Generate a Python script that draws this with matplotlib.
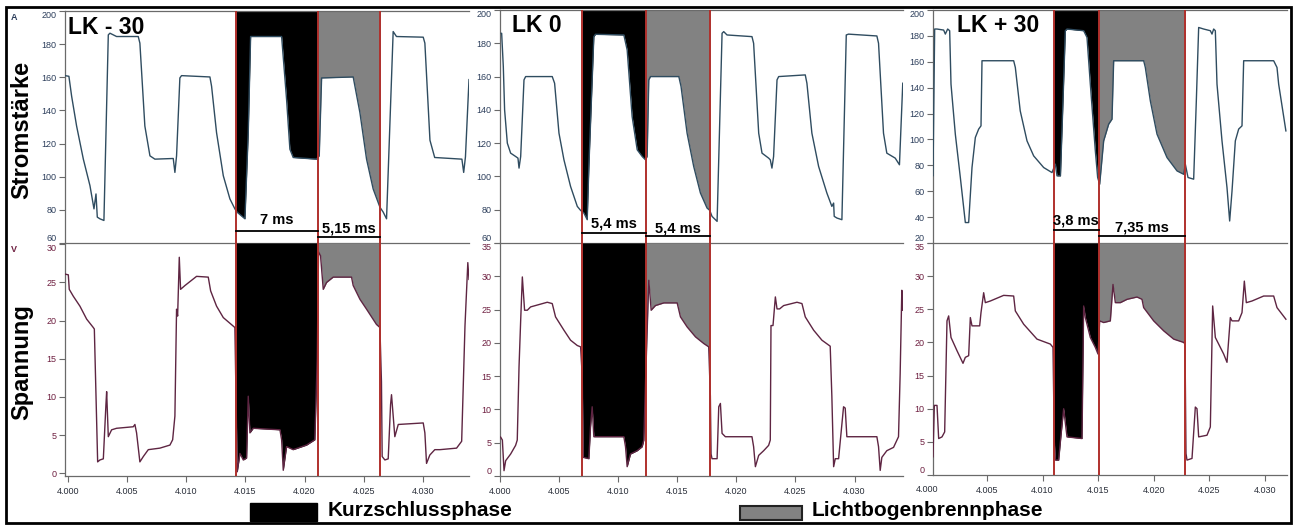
import numpy as np
import matplotlib
matplotlib.use("Agg")
import matplotlib.pyplot as plt
from matplotlib.patches import Rectangle

plt.rcParams['font.family'] = ['Liberation Sans', 'DejaVu Sans']

W, H = 1296, 526
T0 = 4.0  # s, time origin of the x axis (times below are in ms after 4.000 s)

# ---------------- LK - 30 ----------------
p1_i_ms = [-0.25, 0.08, 0.31, 0.73, 1.3, 1.86, 2.2, 2.37, 2.48, 2.7, 3.04, 3.41, 3.55, 4.11, 5.94, 6.08,
           6.5, 6.93, 7.35, 8.9, 9.04, 9.18, 9.46, 9.6, 12.0, 12.14, 12.56, 13.13, 13.69, 14.11, 14.3,
           14.96, 15.24, 15.44, 18.06, 18.48, 18.76, 19.04, 21.01, 21.24, 21.44, 24.11, 24.68, 25.24,
           25.8, 26.37, 26.65, 26.93, 27.49, 27.77, 30.03, 30.17, 30.6, 31.0, 33.3, 33.45, 33.6, 33.9]
p1_i_A = [161, 160.6, 148.6, 130.6, 110.6, 94.6, 80.6, 89.6, 75.6, 74.6, 73.6, 185.6, 186.6, 184.6, 184.6, 180.6,
          130.6, 112.6, 110.6, 111, 102.6, 112.6, 159.6, 161, 160.2, 154.6, 126.6, 100.6, 86.6, 80.6, 78.6,
          74.6, 126.6, 184.6, 184.6, 146.6, 116.6, 111.6, 110.6, 112.6, 159.6, 160.2, 138.6, 110.6,
          92.6, 81.6, 78.6, 74.6, 187.6, 184.6, 184.2, 180.6, 122, 111.6, 110.6, 102.6, 112, 158.6]
p1_u_ms = [-0.25, 0.03, 0.11, 0.45, 1.01, 1.58, 2.14, 2.23, 2.51, 2.7, 2.99, 3.21, 3.27, 3.41, 3.69, 4.11,
           5.52, 5.66, 5.8, 6.08, 6.37, 6.79, 7.77, 8.62, 8.85, 9.04, 9.18, 9.27, 9.41, 9.52, 9.89, 10.87,
           11.86, 12.06, 12.56, 13.13, 14.11, 14.31, 14.54, 14.82, 15.1, 15.24, 15.38, 15.66, 17.92, 18.06,
           18.2, 18.48, 19.04, 20.17, 20.87, 21.07, 21.18, 21.35, 21.58, 21.86, 22.42, 23.97, 24.11, 24.68,
           25.24, 26.08, 26.37, 26.5, 26.56, 26.79, 27.07, 27.27, 27.35, 27.63, 27.92, 30.03, 30.17, 30.31,
           30.59, 31.01, 31.44, 32.85, 33.28, 33.56, 33.8, 33.9]
p1_u_V = [26.1, 26.0, 24.1, 23.2, 21.9, 20.2, 19.1, 18.9, 1.5, 1.75, 1.9, 9.0, 10.7, 4.8, 5.7, 5.9,
          6.1, 6.4, 5.3, 1.5, 2.2, 3.1, 3.3, 3.7, 4.4, 7.5, 21.5, 20.6, 28.3, 24.1, 24.6, 25.8,
          25.7, 23.9, 21.9, 20.4, 19.1, 0.2, 2.6, 1.75, 2.0, 10.1, 5.3, 5.9, 5.7, 4.4,
          0.4, 3.5, 3.1, 3.7, 4.4, 15.0, 29.0, 28.5, 24.1, 25.0, 25.7, 25.7, 24.6, 22.8,
          21.5, 19.5, 19.1, 12.0, 2.2, 1.75, 1.9, 9.0, 10.3, 4.8, 6.4, 6.6, 5.3, 1.3,
          2.4, 3.1, 3.1, 3.3, 4.2, 19.3, 27.6, 25.4]

# ---------------- LK 0 ----------------
p2_i_ms = [0.11, 0.14, 0.28, 0.39, 0.62, 0.9, 1.32, 1.52, 1.61, 1.75, 2.03, 2.17, 4.42, 4.62, 4.99, 5.41,
           5.97, 6.54, 6.82, 7.1, 7.38, 7.52, 7.94, 8.08, 10.48, 10.76, 11.18, 11.61, 12.03, 12.31, 12.45,
           12.59, 12.73, 15.13, 15.32, 15.83, 16.39, 16.96, 17.52, 17.75, 17.94, 18.37, 18.79, 18.93, 19.21,
           21.32, 21.46, 21.89, 22.17, 22.73, 22.87, 23.01, 23.15, 23.44, 23.58, 25.83, 25.97, 26.39, 26.96,
           27.66, 28.08, 28.23, 28.28, 28.51, 28.93, 29.3, 29.49, 31.89, 32.03, 32.45, 32.73, 33.44, 33.8, 34.08]
p2_i_A = [186, 186, 166, 140, 120, 114, 112, 111, 105, 112, 158, 160, 160, 156, 126, 110,
          94, 82, 79.6, 78, 74, 106, 184, 185.4, 185, 176, 136, 116, 112, 110, 112,
          158, 160, 160, 154, 126, 106, 90, 81, 79.6, 76, 73, 186, 187, 185,
          184, 180, 126, 114, 111, 110, 105, 112, 158, 160, 161, 156, 126, 106,
          90, 82, 84, 76, 75, 74, 185, 185.5, 184.4, 180, 126, 114, 111, 107, 156]
p2_u_ms = [0.05, 0.2, 0.34, 0.48, 0.9, 1.32, 1.46, 1.61, 1.75, 1.89, 2.08, 2.31, 2.59, 4.0, 4.42, 4.7,
           5.41, 5.97, 6.54, 6.82, 6.96, 7.04, 7.52, 7.66, 7.8, 7.94, 10.48, 10.62, 10.76, 11.04, 11.61,
           12.03, 12.17, 12.31, 12.59, 12.79, 13.15, 13.86, 14.99, 15.27, 15.83, 16.54, 17.24, 17.66, 17.8,
           17.86, 17.94, 18.37, 18.51, 18.65, 18.79, 19.07, 21.32, 21.46, 21.61, 21.89, 22.31, 22.73, 22.87,
           22.93, 23.1, 23.3, 23.44, 23.66, 24.0, 25.13, 25.55, 25.83, 26.54, 27.24, 27.94, 28.08, 28.23,
           28.37, 28.65, 29.07, 29.21, 29.35, 31.89, 32.03, 32.17, 32.31, 32.73, 33.3, 33.72, 33.86, 34.0, 34.08]
p2_u_V = [5.85, 5.4, 0.8, 2.3, 3.3, 4.6, 5.4, 16.4, 23.4, 29.9, 24.9, 24.9, 25.4, 26.1, 25.9, 23.9,
          21.9, 20.4, 19.6, 19.4, 15.0, 2.8, 2.6, 7.4, 10.4, 5.9, 5.9, 4.4, 1.4, 3.3, 3.8,
          4.4, 5.4, 14.0, 29.4, 24.9, 25.6, 26.0, 26.0, 23.9, 22.4, 20.9, 19.9, 19.4, 12.0,
          3.3, 2.6, 2.6, 10.4, 10.9, 6.4, 5.9, 5.9, 4.4, 1.4, 3.1, 3.8, 4.6, 5.4,
          22.6, 22.6, 26.9, 25.1, 25.1, 25.6, 26.1, 25.9, 23.9, 21.9, 20.4, 19.5, 12.0, 1.4,
          2.6, 2.6, 10.4, 10.2, 5.9, 5.9, 4.4, 0.84, 2.8, 3.8, 4.3, 5.9, 15.4, 27.9, 24.9]

# ---------------- LK + 30 ----------------
p3_i_ms = [0.14, 0.29, 0.50, 1.10, 1.25, 1.46, 1.64, 1.76, 2.15, 2.60, 2.90, 3.05, 3.35, 3.65, 3.95, 4.25,
           4.46, 4.55, 7.40, 7.55, 7.99, 8.60, 9.20, 10.10, 10.85, 11.15, 11.30, 11.61, 11.84, 12.05, 12.20,
           13.70, 14.00, 14.30, 14.75, 14.96, 15.14, 15.50, 15.95, 16.25, 16.40, 19.10, 19.25, 19.70, 20.30,
           21.20, 22.10, 22.70, 22.85, 23.09, 23.60, 23.84, 24.05, 24.50, 25.10, 25.25, 25.40, 25.55, 25.70,
           26.15, 26.60, 26.84, 27.05, 27.35, 27.65, 27.95, 28.10, 30.80, 31.10, 31.25, 31.90]
p3_i_A = [72, 185.3, 185.3, 184.5, 181.4, 185.3, 184, 142.7, 104, 70.6, 47.4, 35.8, 35.8, 78.3, 101.5, 108,
          110.5, 160.8, 160.8, 155.6, 122.1, 98.9, 87.3, 78.3, 74.4, 80.9, 71.9, 71.9, 129.8, 184, 185.3,
          184, 178.8, 142.7, 91.2, 70.6, 65.4, 98.9, 111.8, 115.7, 160.8, 160.8, 155.6, 129.8, 104.1,
          86, 75.7, 73.1, 80.9, 70.6, 69.3, 130, 186.5, 185.3, 184, 181.4, 185.3, 184, 142.7,
          98.9, 62.8, 37, 60, 98.9, 108, 110.5, 160.8, 160.8, 155.6, 142.7, 106.6]
p3_u_ms = [0.14, 0.26, 0.50, 0.65, 0.95, 1.19, 1.40, 1.55, 1.76, 2.30, 2.84, 3.05, 3.35, 3.50, 3.65, 4.34,
           4.46, 4.70, 4.85, 5.30, 6.50, 7.40, 7.55, 8.30, 9.50, 10.70, 10.94, 11.06, 11.15, 11.45, 11.66,
           11.90, 12.20, 13.55, 13.70, 13.85, 14.30, 14.75, 14.99, 15.14, 15.50, 16.10, 16.34, 16.55, 17.00,
           17.60, 18.50, 18.95, 19.10, 20.00, 20.90, 21.80, 22.70, 22.82, 22.91, 23.00, 23.45, 23.75, 23.90,
           24.05, 24.80, 25.10, 25.31, 25.55, 26.30, 26.60, 26.90, 27.05, 27.65, 27.95, 28.16, 28.34, 28.85,
           29.90, 30.80, 31.10, 31.90]
p3_u_V = [2.75, 10.5, 10.5, 5.5, 5.75, 6.5, 23.25, 24, 20.75, 18.75, 16.85, 17.75, 18, 23.75, 22.5, 22.5,
          24.5, 27.5, 26, 26.25, 27.1, 27, 24.75, 22.75, 20.5, 19.75, 19.25, 5, 2.25, 2.25, 6,
          10, 5.75, 5.5, 25.5, 23.75, 20.75, 19.25, 18.25, 23.25, 23, 23.25, 28.75, 26, 26,
          26.5, 26.85, 26.5, 25.25, 23.25, 21.75, 20.5, 20, 19.75, 3.25, 2.25, 2.5, 10.25, 10,
          5.75, 6, 7.25, 25.5, 20.75, 18.25, 17, 23.75, 23.25, 23.25, 24.5, 29.25, 26, 26.25,
          27, 27, 25.25, 23.5]

titles = ["LK - 30", "LK 0", "LK + 30"]
phase_ms = [(14.2, 21.1, 26.4), (6.96, 12.36, 17.76), (11.0, 15.05, 22.85)]
phase_labels = [("7 ms", "5,15 ms"), ("5,4 ms", "5,4 ms"), ("3,8 ms", "7,35 ms")]
legend_labels = ["Kurzschlussphase", "Lichtbogenbrennphase"]
xtick_ms = [0, 5, 10, 15, 20, 25, 30]

# layout (pixel boxes) and scales
layout = [
    dict(l=65, r=469, t=11, m=243, b=476, xlim=(-0.25, 33.9), ilim=(60, 200), ulim=(-0.35, 30.17),
         iticks=np.arange(60, 201, 20), uticks=np.arange(0, 31, 5), bar_y=(67.2, 63.6), txt_y=(73.6, 69.0),
         title_px=(68, 27)),
    dict(l=500, r=903, t=10, m=243, b=476, xlim=(0.0, 34.1), ilim=(60, 200), ulim=(0, 35),
         iticks=np.arange(60, 201, 20), uticks=np.arange(0, 36, 5), bar_y=(66.0, 64.0), txt_y=(72.0, 69.0),
         title_px=(512, 26)),
    dict(l=933, r=1287, t=10, m=243, b=475, xlim=(0.14, 32.0), ilim=(20, 200), ulim=(0, 35),
         iticks=np.arange(20, 201, 20), uticks=np.arange(0, 36, 5), bar_y=(29.8, 25.5), txt_y=(37.0, 32.0),
         title_px=(957, 25)),
]
currents = [(p1_i_ms, p1_i_A), (p2_i_ms, p2_i_A), (p3_i_ms, p3_i_A)]
voltages = [(p1_u_ms, p1_u_V), (p2_u_ms, p2_u_V), (p3_u_ms, p3_u_V)]

I_COL = "#2f4c60"
U_COL = "#5e2542"
I_TICK = "#2d3f5c"
U_TICK = "#6e1f40"
RED = "#b0302c"
GRAY = "#828282"
SPINE = "#6a6a6a"
XLAB = "#2a2f3a"

fig = plt.figure(figsize=(W / 100, H / 100), dpi=100)


def add_ax(l, r, t, b):
    return fig.add_axes([l / W, 1 - b / H, (r - l) / W, (b - t) / H])


def tsec(ms):
    return T0 + np.asarray(ms, float) / 1000.0


for k, L in enumerate(layout):
    ai = add_ax(L['l'], L['r'], L['t'], L['m'])
    au = add_ax(L['l'], L['r'], L['m'], L['b'])
    xl = (T0 + L['xlim'][0] / 1000, T0 + L['xlim'][1] / 1000)
    vis_ticks = [t for t in xtick_ms if L['xlim'][0] <= t <= L['xlim'][1]]

    for ax, (ms, vals), lim, col, ticks, tcol in [
            (ai, currents[k], L['ilim'], I_COL, L['iticks'], I_TICK),
            (au, voltages[k], L['ulim'], U_COL, L['uticks'], U_TICK)]:
        x = tsec(ms)
        v = np.asarray(vals, float)
        a, bnd, c = phase_ms[k]
        for (s, e, fc) in [(a, bnd, 'black'), (bnd, c, GRAY)]:
            xs = np.linspace(T0 + s / 1000, T0 + e / 1000, 600)
            ax.fill_between(xs, np.interp(xs, x, v), lim[1], color=fc, lw=0, zorder=1)
        ax.plot(x, v, color=col, lw=1.0, zorder=3)
        for p in (a, bnd, c):
            ax.axvline(T0 + p / 1000, color=RED, lw=1.4, zorder=4)
        ax.set_yticks(ticks)
        ax.set_yticklabels([str(int(t)) for t in ticks])
        ax.set_xticks(tsec(vis_ticks))
        ax.set_xlim(*xl)
        ax.set_ylim(*lim)
        ax.tick_params(axis='y', length=4, width=0.8, color=SPINE, labelsize=6.5, labelcolor=tcol, pad=2)
        ax.tick_params(axis='x', length=4, width=0.8, color=SPINE, labelsize=6.5, labelcolor=XLAB, pad=4)
        for sp in ax.spines.values():
            sp.set_color(SPINE)
            sp.set_linewidth(0.9)
        ax.spines['right'].set_visible(False)
        ax.patch.set_alpha(0)

    au.spines['top'].set_visible(False)
    ai.tick_params(axis='x', bottom=False, labelbottom=False)
    au.set_xticklabels(["%.3f" % (T0 + t / 1000) for t in vis_ticks])

    # end labels sit inside the axis range, as in the original
    lbl = ai.get_yticklabels()
    lbl[0].set_verticalalignment('bottom')
    lbl[-1].set_verticalalignment('top')
    lbl = au.get_yticklabels()
    lbl[-1].set_verticalalignment('top')
    if L['ulim'][0] == 0:
        lbl[0].set_verticalalignment('bottom')

    # duration bars
    a, bnd, c = phase_ms[k]
    for (s, e), yb, yt, txt in zip([(a, bnd), (bnd, c)], L['bar_y'], L['txt_y'], phase_labels[k]):
        ai.plot([T0 + s / 1000, T0 + e / 1000], [yb, yb], color='black', lw=1.3, zorder=5)
        ai.text(T0 + (s + e) / 2000, yt, txt, ha='center', va='center', fontsize=10.5,
                fontweight='bold', zorder=6)

    if L['xlim'][0] > 0:
        au.annotate("%.3f" % T0, xy=(T0, 0), xycoords=('data', 'axes fraction'), xytext=(-3, -7),
                    textcoords='offset points', ha='center', va='top', fontsize=6.5,
                    color=XLAB, annotation_clip=False)

    tx, ty = L['title_px']
    fig.text(tx / W, 1 - ty / H, titles[k], fontsize=16.5, fontweight='bold', ha='left', va='center')

# axis titles and units
fig.text(22 / W, 1 - 130 / H, "Stromstärke", rotation=90, fontsize=17, fontweight='bold',
         ha='center', va='center')
fig.text(22 / W, 1 - 362 / H, "Spannung", rotation=90, fontsize=17, fontweight='bold',
         ha='center', va='center')
fig.text(14 / W, 1 - 17 / H, "A", fontsize=6.5, fontweight='bold', color=I_TICK, ha='center', va='center')
fig.text(14 / W, 1 - 250 / H, "V", fontsize=6.5, fontweight='bold', color=U_TICK, ha='center', va='center')

# legend
fig.patches.append(Rectangle((250 / W, 1 - 521 / H), 67 / W, 18 / H, transform=fig.transFigure,
                             facecolor='black', edgecolor='black'))
fig.patches.append(Rectangle((740 / W, 1 - 520 / H), 62 / W, 14 / H, transform=fig.transFigure,
                             facecolor=GRAY, edgecolor='#222222', lw=1.5))
fig.text(328 / W, 1 - 511 / H, legend_labels[0], fontsize=15, fontweight='bold', ha='left', va='center')
fig.text(812 / W, 1 - 511 / H, legend_labels[1], fontsize=15, fontweight='bold', ha='left', va='center')

# outer frame
fig.patches.append(Rectangle((6 / W, 1 - 523 / H), 1285 / W, 516 / H, transform=fig.transFigure,
                             fill=False, edgecolor='black', lw=2))

fig.savefig("out.png", dpi=100)
